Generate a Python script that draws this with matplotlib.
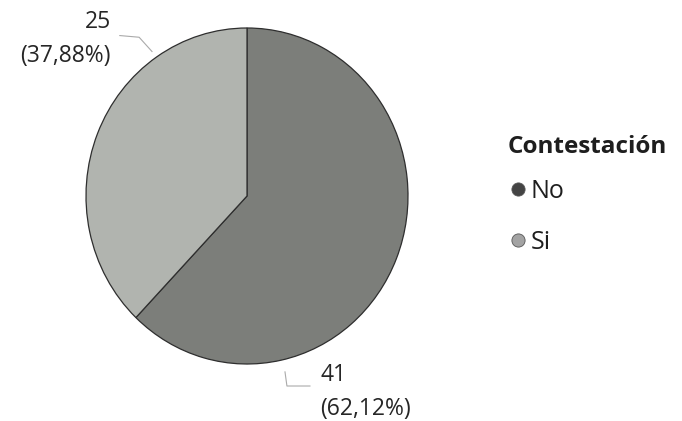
import numpy as np
import matplotlib.pyplot as plt
from matplotlib.lines import Line2D

# data
categories = ['No', 'Si']
counts = [41, 25]
percents = ['62,12%', '37,88%']
colors = ['#7c7e7a', '#b1b4af']
legend_colors = ['#444444', '#a3a3a3']

plt.rcParams['font.family'] = ['Open Sans', 'DejaVu Sans']

fig = plt.figure(figsize=(6.82, 4.21), dpi=100)
ax = fig.add_axes([86/682, 57/421, 322/682, 336/421])

wedges, _ = ax.pie(counts, colors=colors, startangle=90, counterclock=False,
                   wedgeprops=dict(edgecolor='#2e2e2e', linewidth=0.9))
ax.set_aspect('auto')
ax.set_xlim(-1, 1)
ax.set_ylim(-1, 1)

# labels with leader lines
ax.text(-0.845, 0.934, '%d\n(%s)' % (counts[1], percents[1]), ha='right', va='center',
        fontsize=16.5, linespacing=1.6, color='#262626')
ax.plot([-0.79, -0.67, -0.59], [0.955, 0.945, 0.86], color='#aaaaaa', lw=0.8, clip_on=False)

ax.text(0.455, -1.167, '%d\n(%s)' % (counts[0], percents[0]), ha='left', va='center',
        fontsize=16.5, linespacing=1.6, color='#262626')
ax.plot([0.236, 0.248, 0.391], [-1.047, -1.131, -1.131], color='#aaaaaa', lw=0.8, clip_on=False)

# legend: title as its own text, entries below
fig.text(508/682, 1 - 147/421, 'Contestación', ha='left', va='center',
         fontsize=17.5, fontweight='bold', color='#1e1e1e')
handles = [Line2D([], [], marker='o', linestyle='none', markersize=9.5,
                  markerfacecolor=c, markeredgecolor='#555555', markeredgewidth=0.6)
           for c in legend_colors]
leg = fig.legend(handles, categories, loc='center left',
                 bbox_to_anchor=(483/682, 1 - 217/421), frameon=False,
                 fontsize=18, handletextpad=0.0, labelspacing=1.04,
                 handlelength=1.0)
for t in leg.get_texts():
    t.set_color('#1e1e1e')

fig.savefig('out.png', dpi=100)
